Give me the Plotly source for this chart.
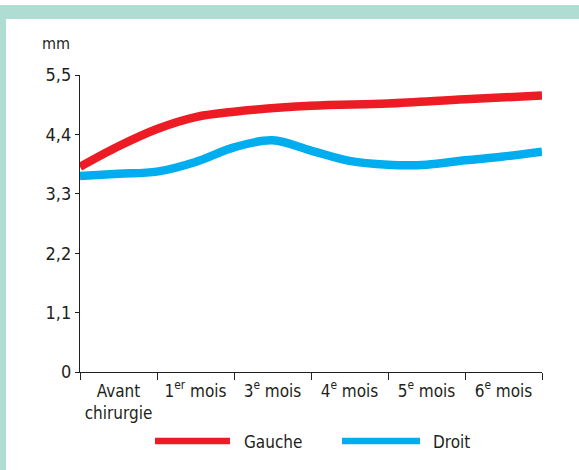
import plotly.graph_objects as go

# ---- data ----
categories = ["Avant<br>chirurgie", "1<sup>er</sup> mois", "3<sup>e</sup> mois",
              "4<sup>e</sup> mois", "5<sup>e</sup> mois", "6<sup>e</sup> mois"]
x_gauche = [0, 0.5, 1, 1.5, 2, 3, 4, 5, 6]
y_gauche = [3.80, 4.18, 4.50, 4.72, 4.82, 4.93, 4.97, 5.05, 5.12]
x_droit = [0, 0.5, 1, 1.5, 2, 2.5, 3, 3.5, 4, 4.5, 5, 5.5, 6]
y_droit = [3.63, 3.67, 3.71, 3.89, 4.16, 4.29, 4.10, 3.91, 3.84, 3.84, 3.92, 3.99, 4.08]
y_ticks = [0, 1.1, 2.2, 3.3, 4.4, 5.5]
y_ticklabels = ["0", "1,1", "2,2", "3,3", "4,4", "5,5"]
series_names = ["Gauche", "Droit"]
series_colors = ["#ed1c24", "#00aeef"]

W, H = 579, 470
L, R, T, B = 80, 37, 75, 98
PW, PH = W - L - R, H - T - B

def px(x):
    return (x - L) / PW

def py(y):
    return (H - B - y) / PH

FONT = "DejaVu Sans Condensed, Roboto, sans-serif"
TXT = "#231f20"

fig = go.Figure()
fig.add_trace(go.Scatter(x=x_gauche, y=y_gauche, mode="lines", name=series_names[0],
                         line=dict(color=series_colors[0], width=8.5, shape="spline", smoothing=1.0),
                         showlegend=False))
fig.add_trace(go.Scatter(x=x_droit, y=y_droit, mode="lines", name=series_names[1],
                         line=dict(color=series_colors[1], width=8.5, shape="spline", smoothing=1.0),
                         showlegend=False))

shapes = [
    # teal frame
    dict(type="rect", xref="paper", yref="paper", x0=px(0), x1=px(W + 5), y0=py(19), y1=py(5),
         fillcolor="#b0ddd3", line=dict(width=0), layer="below"),
    dict(type="rect", xref="paper", yref="paper", x0=px(0), x1=px(6), y0=py(H + 5), y1=py(5),
         fillcolor="#b0ddd3", line=dict(width=0), layer="below"),
    # legend samples
    dict(type="line", xref="paper", yref="paper", x0=px(155), x1=px(230), y0=py(441), y1=py(441),
         line=dict(color=series_colors[0], width=6.5)),
    dict(type="line", xref="paper", yref="paper", x0=px(342), x1=px(420), y0=py(441), y1=py(441),
         line=dict(color=series_colors[1], width=6.5)),
]

annotations = [
    dict(text="mm", xref="paper", yref="paper", x=px(40), y=py(44), xanchor="left", yanchor="middle",
         showarrow=False, font=dict(family=FONT, size=16, color=TXT)),
    dict(text=series_names[0], xref="paper", yref="paper", x=px(242), y=py(442), xanchor="left",
         yanchor="middle", showarrow=False, font=dict(family=FONT, size=17, color=TXT)),
    dict(text=series_names[1], xref="paper", yref="paper", x=px(431), y=py(442), xanchor="left",
         yanchor="middle", showarrow=False, font=dict(family=FONT, size=17, color=TXT)),
]

fig.update_layout(
    width=W, height=H,
    margin=dict(l=L, r=R, t=T, b=B),
    paper_bgcolor="white", plot_bgcolor="white",
    font=dict(family=FONT, size=17, color=TXT),
    shapes=shapes, annotations=annotations,
    showlegend=False,
    xaxis=dict(range=[0, 6], tickmode="array", tickvals=[i + 0.5 for i in range(len(categories))],
               ticktext=categories, ticks="", showgrid=False, zeroline=False,
               showline=True, linecolor="#231f20", linewidth=1.2, ticklabelstandoff=3,
               tickfont=dict(family=FONT, size=17, color=TXT),
               minor=dict(tickmode="array", tickvals=list(range(len(categories) + 1)),
                          ticks="outside", ticklen=7, tickwidth=1.2, tickcolor="#231f20",
                          showgrid=False),
               fixedrange=True),
    yaxis=dict(range=[0, 5.5], tickmode="array", tickvals=y_ticks, ticktext=y_ticklabels,
               ticks="outside", ticklen=4, tickwidth=1.2, tickcolor="#231f20",
               showgrid=False, zeroline=False, showline=True, linecolor="#231f20", linewidth=1.2,
               tickfont=dict(family=FONT, size=18, color=TXT), fixedrange=True),
)

fig.write_html("out.html", config={"displayModeBar": False},
               post_script="document.body.style.margin='0';document.body.style.padding='0';")
